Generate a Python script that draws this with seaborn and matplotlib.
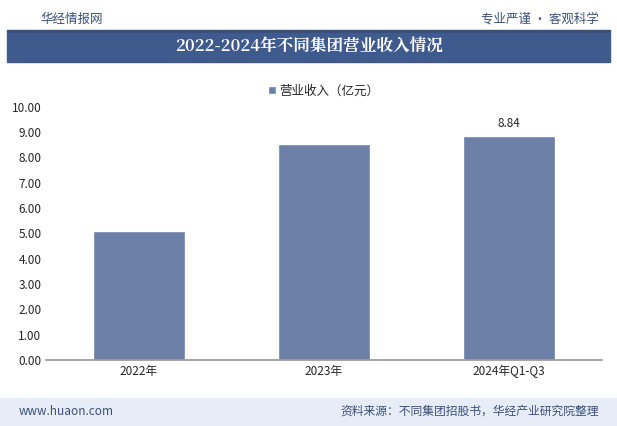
import matplotlib
matplotlib.use('Agg')
import matplotlib.pyplot as plt
import seaborn as sns
import pandas as pd

years = ['2022年', '2023年', '2024年Q1-Q3']
revenue = [5.08, 8.52, 8.84]

sns.set_theme(style='white')
plt.rcParams['font.family'] = ['Noto Sans CJK SC', 'DejaVu Sans']

fig = plt.figure(figsize=(6.17, 4.26), dpi=100)
fig.patch.set_facecolor('white')

# header and footer
fig.text(0.065, 0.955, '华经情报网', fontsize=9, color='#3a4f7a', va='center')
fig.text(0.97, 0.955, '专业严谨 • 客观科学', fontsize=9, color='#3a4f7a', va='center', ha='right')
fig.patches.append(plt.Rectangle((0.012, 0.925), 0.976, 0.005, transform=fig.transFigure, color='#3a4f7a'))
fig.patches.append(plt.Rectangle((0.012, 0.855), 0.976, 0.068, transform=fig.transFigure, color='#3f5a8c'))
fig.text(0.5, 0.889, '2022-2024年不同集团营业收入情况', fontsize=12, fontweight='bold',
         color='white', ha='center', va='center', family=['Noto Serif CJK SC', 'Noto Sans CJK SC', 'DejaVu Sans'])
fig.patches.append(plt.Rectangle((0.0, 0.0), 1.0, 0.065, transform=fig.transFigure, color='#e6edf7'))
fig.text(0.03, 0.035, 'www.huaon.com', fontsize=8.5, color='#3a4f7a', va='center')
fig.text(0.97, 0.035, '资料来源：不同集团招股书，华经产业研究院整理', fontsize=8.5, color='#3a4f7a',
         va='center', ha='right')

ax = fig.add_axes([0.075, 0.155, 0.9, 0.595])
df = pd.DataFrame({'year': years, 'revenue': revenue})
sns.barplot(data=df, x='year', y='revenue', color='#6b7fa7', saturation=1, width=0.5,
            ax=ax, label='营业收入（亿元）')
ax.set_ylim(0, 10)
ax.set_yticks([i for i in range(11)])
ax.set_yticklabels([f'{i:.2f}' for i in range(11)], fontsize=8.5)
ax.tick_params(axis='x', labelsize=8.5, length=0)
ax.tick_params(axis='y', length=0)
ax.set_xlabel('')
ax.set_ylabel('')
for s in ['top', 'right', 'left']:
    ax.spines[s].set_visible(False)
ax.spines['bottom'].set_color('#999999')
ax.text(2, revenue[2] + 0.25, f'{revenue[2]:.2f}', ha='center', va='bottom', fontsize=8.5)
ax.legend(loc='upper center', bbox_to_anchor=(0.5, 1.13), frameon=False, fontsize=9,
          handlelength=0.6, handleheight=0.6, handletextpad=0.3)

fig.savefig('out.png', dpi=100)
